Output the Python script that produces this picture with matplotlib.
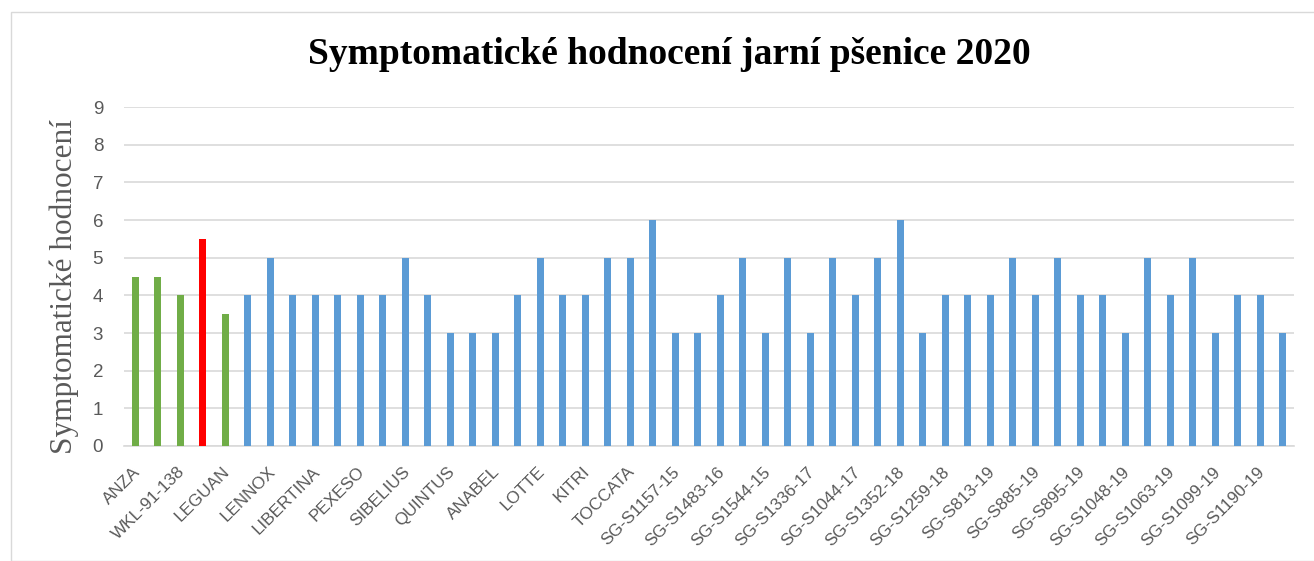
import matplotlib
matplotlib.use("Agg")
import matplotlib.pyplot as plt
from matplotlib.patches import Rectangle
from matplotlib.transforms import ScaledTranslation

values = [4.5, 4.5, 4.0, 5.5, 3.5, 4, 5, 4, 4, 4, 4, 4, 5, 4, 3, 3, 3, 4, 5, 4,
          4, 5, 5, 6, 3, 3, 4, 5, 3, 5, 3, 5, 4, 5, 6, 3, 4, 4, 4, 5,
          4, 5, 4, 4, 3, 5, 4, 5, 3, 4, 4, 3]
shown_labels = ["ANZA", "WKL-91-138", "LEGUAN", "LENNOX", "LIBERTINA", "PEXESO",
                "SIBELIUS", "QUINTUS", "ANABEL", "LOTTE", "KITRI", "TOCCATA",
                "SG-S1157-15", "SG-S1483-16", "SG-S1544-15", "SG-S1336-17",
                "SG-S1044-17", "SG-S1352-18", "SG-S1259-18", "SG-S813-19",
                "SG-S885-19", "SG-S895-19", "SG-S1048-19", "SG-S1063-19",
                "SG-S1099-19", "SG-S1190-19"]
groups = ["check"] * 3 + ["ref"] + ["check"] + ["line"] * 47
palette = {"check": "#70AD47", "ref": "#FF0000", "line": "#5B9BD5"}

W, H = 1314, 561
fig = plt.figure(figsize=(W / 100, H / 100), dpi=100)
fig.patches.append(Rectangle((11 / W, 0), 1.2, 1 - 12 / H, transform=fig.transFigure,
                             fill=False, edgecolor="#D9D9D9", linewidth=1))
ax = fig.add_axes([124 / W, (H - 446) / H, (1294 - 124) / W, (446 - 107) / H])

x = list(range(len(values)))
ax.bar(x, values, width=0.32, color=[palette[g] for g in groups], zorder=3)
ax.set_xlim(-0.5, len(values) - 0.5)
ax.set_ylim(0, 9)
ax.set_yticks(range(10))
ax.grid(axis="y", color="#D9D9D9", linewidth=1.2, zorder=0)
for s in ["top", "right", "left"]:
    ax.spines[s].set_visible(False)
ax.spines["bottom"].set_color("#D9D9D9")
ax.spines["bottom"].set_linewidth(1.2)
ax.tick_params(axis="both", length=0)
ax.tick_params(axis="y", labelsize=13.5, labelcolor="#595959", pad=15)
ax.set_yticklabels([str(i) for i in range(10)], fontfamily="Liberation Sans")

ax.set_xticks(x[::2])
ax.set_xticklabels(shown_labels, rotation=45, ha="right", rotation_mode="anchor",
                   fontsize=12.3, color="#595959", fontfamily="Liberation Sans")
ax.tick_params(axis="x", pad=13)
shift = ScaledTranslation(-3 / 100, 0, fig.dpi_scale_trans)
for lbl in ax.get_xticklabels():
    lbl.set_transform(lbl.get_transform() + shift)

ax.set_ylabel("Symptomatické hodnocení", fontfamily="Liberation Serif", fontsize=22.5,
              color="#595959")
ax.yaxis.set_label_coords(-(124 - 79) / (1294 - 124), (446 - 287) / (446 - 107))
fig.text(669 / W, 1 - 55 / H, "Symptomatické hodnocení jarní pšenice 2020",
         ha="center", va="center", fontfamily="Liberation Serif", fontweight="bold",
         fontsize=27)

fig.savefig("out.png", dpi=100)
